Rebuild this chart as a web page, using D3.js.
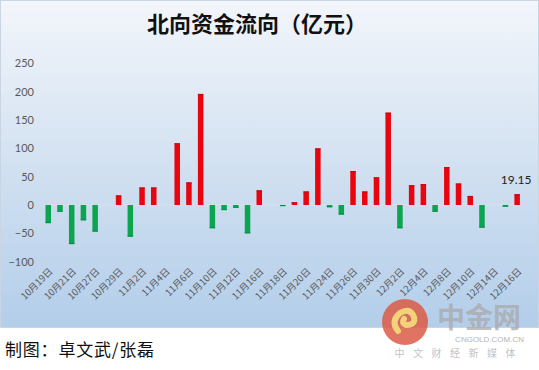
<!DOCTYPE html>
<html><head><meta charset="utf-8">
<script src="https://cdn.jsdelivr.net/npm/d3@7"></script>
<style>html,body{margin:0;padding:0;background:#fff;}svg{display:block;}</style>
</head><body>
<script>
const dates = ["10月19日","10月20日","10月21日","10月22日","10月27日","10月28日","10月29日","10月30日",
"11月2日","11月3日","11月4日","11月5日","11月6日","11月9日","11月10日","11月11日","11月12日","11月13日",
"11月16日","11月17日","11月18日","11月19日","11月20日","11月23日","11月24日","11月25日","11月26日","11月27日",
"11月30日","12月1日","12月2日","12月3日","12月4日","12月7日","12月8日","12月9日","12月10日","12月11日",
"12月14日","12月15日","12月16日"];
const flows = [-32,-12,-69,-27,-47,0,17,-56,31,31,0,109,40,196,-41,-9,-5,-50,26,0,-2,5,24,100,-4,-17,60,24,49,163,-41,35,37,-12,67,38,16,-40,0,-3,19.15];
const yTicks = [-100,-50,0,50,100,150,200,250];
const title = "北向资金流向（亿元）";
const credit = "制图：卓文武/张磊";
const lastLabel = "19.15";

const W=539,H=370;
const svg=d3.select("body").append("svg").attr("width",W).attr("height",H);
const defs=svg.append("defs");
const g1=defs.append("linearGradient").attr("id","bg").attr("x1",0).attr("y1",0).attr("x2",0).attr("y2",1);
g1.append("stop").attr("offset","0%").attr("stop-color","#F3F6FB");
g1.append("stop").attr("offset","55%").attr("stop-color","#CFDFF0");
g1.append("stop").attr("offset","100%").attr("stop-color","#B3CEEA");
svg.append("rect").attr("width",W).attr("height",H).attr("fill","#fff");
svg.append("rect").attr("x",0.5).attr("y",0.5).attr("width",W-1).attr("height",327).attr("fill","url(#bg)").attr("stroke","#C9D5E2");

// watermark
const wm=svg.append("g");
wm.append("circle").attr("cx",405).attr("cy",322).attr("r",23).attr("fill","#DA5A45").attr("opacity",0.85);
wm.append("path").attr("d","M398,331 q-8,-10 2,-18 q10,-6 14,4 q2,8 -8,8 q-5,-2 -2,-6").attr("fill","none").attr("stroke","#F3D27A").attr("stroke-width",6).attr("stroke-linecap","round");
wm.append("text").attr("x",479).attr("y",328).attr("text-anchor","middle").attr("font-family","Noto Sans CJK SC").attr("font-weight","bold").attr("font-size",28).attr("fill","#A9A9A9").attr("opacity",0.75).text("中金网");
wm.append("text").attr("x",524).attr("y",342).attr("text-anchor","end").attr("font-family","Liberation Sans").attr("font-size",8).attr("fill","#B5B5B5").text("CNGOLD.COM.CN");
wm.append("text").attr("x",524).attr("y",357).attr("text-anchor","end").attr("font-family","Noto Sans CJK SC").attr("font-size",10).attr("letter-spacing","8.5px").attr("fill","#C3C3C3").text("中文财经新媒体");

const x=d3.scaleBand().domain(dates).range([42.4,523]).paddingInner(0.53).paddingOuter(0.265);
const y=d3.scaleLinear().domain([-100,250]).range([261.7,63.3]);

// title
svg.append("text").attr("x",257).attr("y",32).attr("text-anchor","middle")
 .attr("font-family","Noto Sans CJK SC").attr("font-weight","bold").attr("font-size",22).attr("fill","#111").text(title);

// y axis labels
const ya=svg.append("g").attr("transform","translate(34,0)").call(d3.axisLeft(y).tickValues(yTicks).tickSize(0).tickPadding(0));
ya.select(".domain").remove();
ya.selectAll("text").attr("font-family","Lato, 'Open Sans', sans-serif").attr("font-size",11).attr("fill","#595959");

// zero line
svg.append("line").attr("x1",42).attr("x2",523).attr("y1",y(0)).attr("y2",y(0)).attr("stroke","#D6E1EC").attr("stroke-width",1);

// bars
const bars=svg.append("g");
dates.forEach((d,i)=>{
  const v=flows[i]; if(v===0) return;
  const col=v>0?"#E8050F":"#0AA54E";
  const dark=v>0?"#B80A10":"#08864A";
  const y0=y(Math.max(0,v)), y1=y(Math.min(0,v));
  bars.append("rect").attr("x",x(d)).attr("width",x.bandwidth()).attr("y",y0).attr("height",Math.max(1,y1-y0)).attr("fill",col);
  const capY=v>0?y0:y1-1.2;
  bars.append("rect").attr("x",x(d)).attr("width",x.bandwidth()).attr("y",capY).attr("height",1.2).attr("fill",dark).attr("opacity",0.7);
});

// last label
const li=dates.length-1;
svg.append("text").attr("x",x(dates[li])+x.bandwidth()/2-1).attr("y",y(flows[li])-10).attr("text-anchor","middle")
 .attr("font-family","Lato, 'Open Sans', sans-serif").attr("font-size",12).attr("fill","#222").text(lastLabel);

// x labels
const xa=svg.append("g").attr("transform","translate(0,266)")
 .call(d3.axisBottom(x).tickValues(dates.filter((d,i)=>i%2===0)).tickSize(0).tickPadding(0));
xa.select(".domain").remove();
xa.selectAll("text").attr("font-family","'Noto Sans CJK SC', sans-serif").attr("font-size",9.5).attr("fill","#595959")
 .attr("text-anchor","end").attr("dy",0).attr("transform","translate(5,6) rotate(-45)");

// credit
svg.append("text").attr("x",5).attr("y",356).attr("font-family","'Noto Sans CJK SC'").attr("font-size",17).attr("letter-spacing","0.8px").attr("fill","#111").text(credit);
</script>
</body></html>
